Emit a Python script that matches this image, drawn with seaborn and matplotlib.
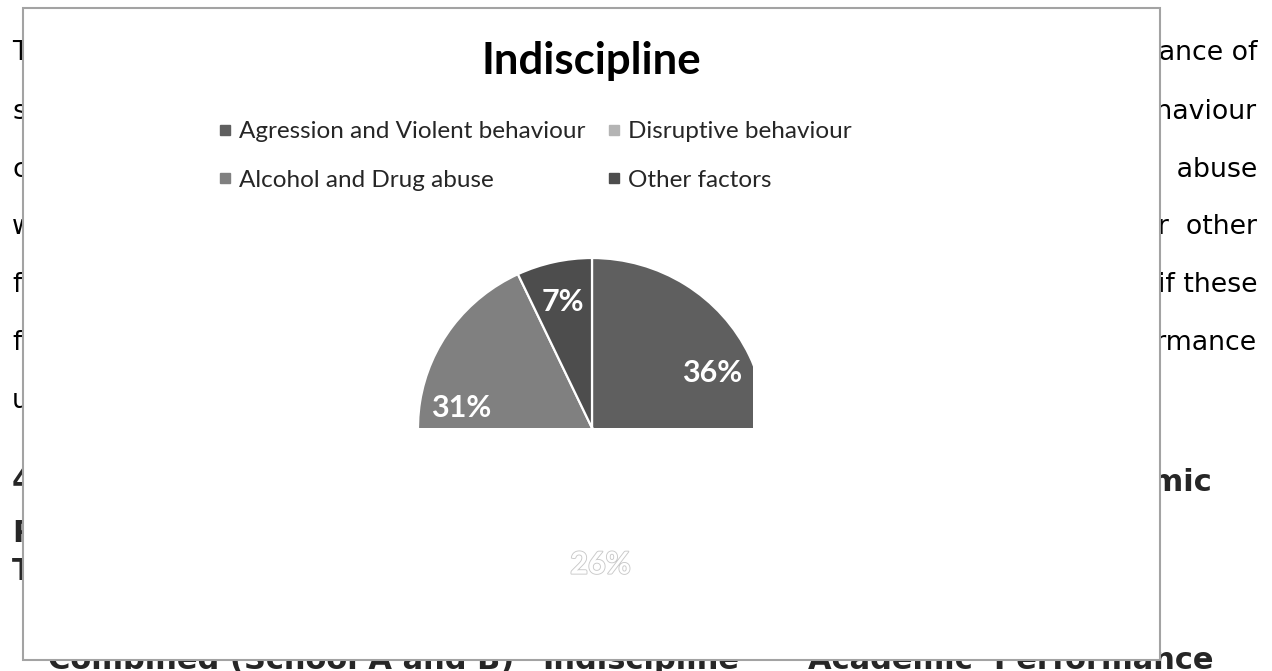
import matplotlib
matplotlib.use("Agg")
import matplotlib.pyplot as plt
import matplotlib.patheffects as pe
from matplotlib.patches import Rectangle
from matplotlib.lines import Line2D
import seaborn as sns

# ---- data ----
title = "Indiscipline"
categories = ["Agression and Violent behaviour", "Disruptive behaviour",
              "Alcohol and Drug abuse", "Other factors"]
shares = [36, 26, 31, 7]
slice_colors = ["#5f5f5f", "#b4b4b4", "#808080", "#4d4d4d"]

# background document text fragments (partly hidden by the chart box)
doc_left_lines = ["The", "stu", "con", "was", "fac", "fac", "und"]
doc_right_lines = ["performance of", "behaviour", "drug  abuse", "for  other",
                   "if these", "performance"]
doc_bold_left = ["4.", "P", "T"]
doc_bold_right = "Academic"
doc_bottom = ["Combined (School A and B)", "Indiscipline", "Academic  Performance"]

sns.set_theme(style="white")
plt.rcParams["font.family"] = ["Lato", "DejaVu Sans"]

W, H = 1272, 671
fig = plt.figure(figsize=(W / 100, H / 100), dpi=100)
fig.patch.set_facecolor("white")


def fx(x):
    return x / W


def fy(y):
    return 1 - y / H


# ---- document text behind the chart ----
base_regular = [60, 119, 177, 234, 292, 350, 408]
for txt, yb in zip(doc_left_lines, base_regular):
    fig.text(fx(12), fy(yb), txt, family="DejaVu Sans", fontsize=19.3,
             va="baseline", ha="left", color="black", zorder=0)
for txt, yb in zip(doc_right_lines, base_regular):
    fig.text(fx(1257), fy(yb), txt, family="DejaVu Sans", fontsize=19.3,
             va="baseline", ha="right", color="black", zorder=0)
for txt, yb in zip(doc_bold_left, [490, 542, 580]):
    fig.text(fx(12), fy(yb), txt, family="DejaVu Sans", fontsize=22,
             fontweight="bold", va="baseline", ha="left", zorder=0)
fig.text(fx(1213), fy(491), doc_bold_right, family="DejaVu Sans", fontsize=22,
         fontweight="bold", va="baseline", ha="right", zorder=0)
fig.text(fx(48), fy(669), doc_bottom[0], family="DejaVu Sans", fontsize=22,
         fontweight="bold", va="baseline", ha="left", zorder=0)
fig.text(fx(542), fy(669), doc_bottom[1], family="DejaVu Sans", fontsize=22,
         fontweight="bold", va="baseline", ha="left", zorder=0)
fig.text(fx(1213), fy(669), doc_bottom[2], family="DejaVu Sans", fontsize=22,
         fontweight="bold", va="baseline", ha="right", zorder=0)

# ---- chart box ----
box = Rectangle((fx(23), fy(660)), fx(1160 - 23), (660 - 8) / H,
                transform=fig.transFigure, facecolor="white",
                edgecolor="#a3a3a3", linewidth=1.5, zorder=1)
fig.patches.append(box)

# title
fig.text(fx(591), fy(61), title, ha="center", va="center", fontsize=31.5,
         fontweight="bold", color="black", zorder=3)

# ---- pie ----
cx, cy, rx, ry = 592, 428, 174, 170
ax = fig.add_axes([fx(cx - rx), fy(cy + ry), 2 * rx / W, 2 * ry / H])
ax.set_zorder(2)
ax.patch.set_alpha(0)
wedges, _, autotexts = ax.pie(
    shares, colors=slice_colors, startangle=90, counterclock=False,
    autopct="%1.0f%%", pctdistance=0.76,
    wedgeprops=dict(edgecolor="white", linewidth=1.6),
    textprops=dict(color="white", fontsize=22, fontweight="bold"))
ax.set_aspect("auto")
ax.set_xlim(-1, 1)
ax.set_ylim(-1, 1)
ax.axis("off")

# only the upper part of the pie is shown, cut on the right as well
clip = Rectangle((-1.1, 0.0), 1.1 + (753 - cx) / rx, 1.2, transform=ax.transData)
for w in wedges:
    w.set_clip_on(True)
    w.set_clip_path(clip)

# label of the hidden (disruptive) slice: outlined white text, a bit further out
lx, ly = autotexts[1].get_position()
autotexts[1].set_position((lx, ly * 1.06))
autotexts[1].set_color("white")
autotexts[1].set_path_effects([pe.withStroke(linewidth=1.3, foreground="#c9c9c9")])

# ---- legend ----
handles = [Line2D([], [], marker="s", linestyle="none", markersize=7,
                  markerfacecolor=c, markeredgecolor=c) for c in slice_colors]
order = [0, 2, 1, 3]
leg = fig.legend([handles[i] for i in order], [categories[i] for i in order],
                 ncol=2, loc="upper left", bbox_to_anchor=(fx(218), fy(121)),
                 frameon=False, fontsize=17.5, handlelength=0.6,
                 handletextpad=0.25, columnspacing=0.9, labelspacing=1.15,
                 borderpad=0, borderaxespad=0)
leg.set_zorder(4)

fig.savefig("out.png", dpi=100, facecolor="white")
